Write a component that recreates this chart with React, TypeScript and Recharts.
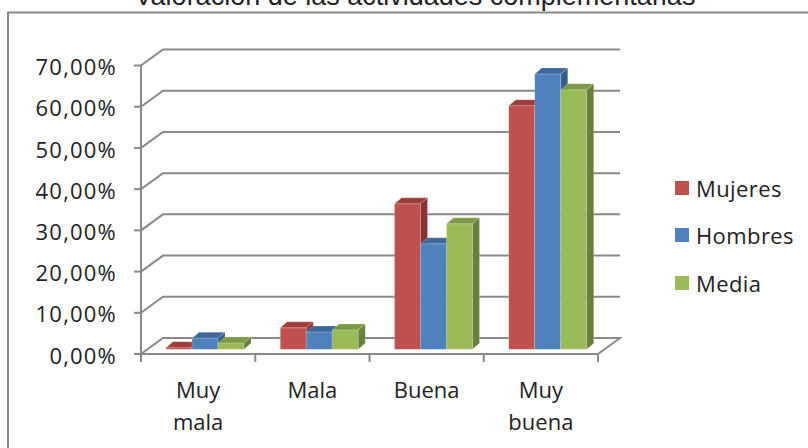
import { BarChart, Bar, XAxis, YAxis, CartesianGrid, Legend } from 'recharts'

const categories = ['Muy mala', 'Mala', 'Buena', 'Muy buena']
const mujeres = [0.004, 0.052, 0.353, 0.591]
const hombres = [0.027, 0.042, 0.256, 0.668]
const media = [0.0155, 0.047, 0.3045, 0.6295]
const yTicks = [0, 0.1, 0.2, 0.3, 0.4, 0.5, 0.6, 0.7]

const series = [
  { key: 'mujeres', name: 'Mujeres', front: '#C0504D', top: '#9F3D3A', side: '#8A322F' },
  { key: 'hombres', name: 'Hombres', front: '#4F81BD', top: '#3D689C', side: '#355B8A' },
  { key: 'media', name: 'Media', front: '#9BBB59', top: '#7C9A45', side: '#67803A' },
]

const data = categories.map((name, i) => ({
  name,
  mujeres: mujeres[i],
  hombres: hombres[i],
  media: media[i],
}))

// layout of the front plane and the 3d depth offsets
const W = 808
const H = 448
const PLOT_LEFT = 141
const PLOT_RIGHT = 598
const PLOT_TOP = 65.5
const PLOT_BOTTOM = 354
const PLOT_W = PLOT_RIGHT - PLOT_LEFT
const DX = 22 // back wall offset
const DY = 16
const BX = 7 // bars sit a bit behind the front edge
const BY = 4.7
const SX = 7 // bar depth
const SY = 6

const GRID = '#898989'
const TEXT = '#222'
const FONT = '"Open Sans", sans-serif'

const fmt = (v: number) => (v * 100).toFixed(2).replace('.', ',') + '%'

const renderGridLine = (props: any) => {
  const { x1, y1, x2 } = props
  const floor = Math.abs(y1 - PLOT_BOTTOM) < 1
  let d = `M${x1},${y1} L${x1 + DX},${y1 - DY} L${x2 + DX},${y1 - DY}`
  if (floor) d += ` L${x2},${y1}`
  return <path key={props.key} d={d} fill="none" stroke={GRID} strokeWidth={2} />
}

const makeShape = (s: typeof series[number]) => (props: any) => {
  const { x, y, width, height } = props
  const fx = x + BX
  const fy = y - BY
  const h = Math.max(height, 0)
  return (
    <g stroke="rgba(255,255,255,0.35)" strokeWidth={0.6}>
      <rect x={fx} y={fy} width={width} height={h} fill={s.front} />
      <polygon
        points={`${fx},${fy} ${fx + SX},${fy - SY} ${fx + width + SX},${fy - SY} ${fx + width},${fy}`}
        fill={s.top}
      />
      <polygon
        points={`${fx + width},${fy} ${fx + width + SX},${fy - SY} ${fx + width + SX},${fy - SY + h} ${fx + width},${fy + h}`}
        fill={s.side}
      />
    </g>
  )
}

const XTick = (props: any) => {
  const { x, y, payload, index } = props
  const band = PLOT_W / categories.length
  const words = String(payload.value).split(' ')
  return (
    <g>
      <line x1={x - band / 2} y1={y} x2={x - band / 2} y2={y + 8} stroke={GRID} strokeWidth={2} />
      {index === categories.length - 1 && (
        <line x1={x + band / 2} y1={y} x2={x + band / 2} y2={y + 8} stroke={GRID} strokeWidth={2} />
      )}
      {words.map((w, i) => (
        <text
          key={w}
          x={x}
          y={y + 36 + i * 32}
          dy="0.35em"
          textAnchor="middle"
          fontFamily={FONT}
          fontSize={22}
          fill={TEXT}
        >
          {w}
        </text>
      ))}
    </g>
  )
}

const YTick = (props: any) => {
  const { x, y, payload } = props
  return (
    <text
      x={x - 15}
      y={y + 2}
      dy="0.35em"
      textAnchor="end"
      fontFamily={FONT}
      fontSize={22}
      letterSpacing={1.2}
      fill={TEXT}
    >
      {fmt(payload.value)}
    </text>
  )
}

const renderLegend = () => (
  <div style={{ fontFamily: FONT, fontSize: 22, color: TEXT }}>
    {series.map((s) => (
      <div key={s.key} style={{ display: 'flex', alignItems: 'center', height: 47.5 }}>
        <span style={{ display: 'inline-block', width: 14, height: 14, background: s.front, marginRight: 7 }} />
        <span style={{ letterSpacing: 0.4 }}>{s.name}</span>
      </div>
    ))}
  </div>
)

export default function App() {
  return (
    <div style={{ position: 'absolute', left: 0, top: 0, width: W, height: H, overflow: 'hidden', background: '#fff' }}>
      <svg width={W} height={H} style={{ position: 'absolute', left: 0, top: 0 }}>
        <rect x={8} y={12.5} width={900} height={600} fill="none" stroke={GRID} strokeWidth={2} />
        <text x={415} y={4.5} textAnchor="middle" fontFamily='"Liberation Sans", Arial, sans-serif' fontSize={27} fill={TEXT}>
          Valoración de las actividades complementarias
        </text>
      </svg>
      <div style={{ position: 'absolute', left: 0, top: 0 }}>
        <BarChart
          width={W}
          height={H}
          data={data}
          margin={{ top: PLOT_TOP, right: W - PLOT_RIGHT, bottom: H - PLOT_BOTTOM - 60, left: 0 }}
          barGap={0}
        >
          <CartesianGrid vertical={false} horizontal={renderGridLine} />
          <XAxis
            dataKey="name"
            interval={0}
            height={60}
            tickLine={false}
            tickSize={0}
            tickMargin={0}
            axisLine={{ stroke: GRID, strokeWidth: 2 }}
            tick={<XTick />}
          />
          <YAxis
            width={PLOT_LEFT}
            domain={[0, 0.7]}
            ticks={yTicks}
            interval={0}
            tickSize={7}
            tickMargin={2}
            axisLine={{ stroke: GRID, strokeWidth: 2 }}
            tickLine={{ stroke: GRID, strokeWidth: 2 }}
            tick={<YTick />}
          />
          <Legend
            layout="vertical"
            align="center"
            verticalAlign="middle"
            content={renderLegend}
            wrapperStyle={{ left: 675, top: 164, width: 130 }}
          />
          {series.map((s) => (
            <Bar
              key={s.key}
              dataKey={s.key}
              name={s.name}
              fill={s.front}
              barSize={26}
              shape={makeShape(s)}
              isAnimationActive={false}
            />
          ))}
        </BarChart>
      </div>
    </div>
  )
}
